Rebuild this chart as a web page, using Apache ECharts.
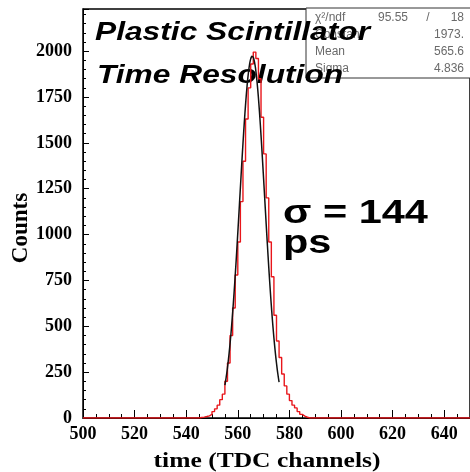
<!DOCTYPE html>
<html>
<head>
<meta charset="utf-8">
<script src="https://cdn.jsdelivr.net/npm/echarts@6/dist/echarts.min.js"></script>
<style>
  html, body { margin: 0; padding: 0; background: #fff; }
  #chart { width: 470px; height: 472px; }
</style>
</head>
<body>
<div id="chart"></div>
<script>
// TDC channel range of the histogram (1 channel per bin)
const xMin = 500;
const xMax = 650;
const xTickStep = 20;
const yMax = 2230;
const yTickStep = 250;

// Bin contents for channels 545 .. 586 (all other bins are empty)
const firstFilledChannel = 545;
const counts = [
  3, 5, 8, 12, 20, 35, 50, 70, 100, 130,                   // 545-554
  200, 300, 450, 600, 780, 960, 1180, 1400, 1630, 1800,    // 555-564
  1930, 1995, 1960, 1850, 1640, 1440, 1200, 960, 770, 560, // 565-574
  420, 330, 240, 175, 130, 95, 70, 55, 35, 20,             // 575-584
  10, 4                                                     // 585-586
];

// Gaussian fit results (stat box)
const fitStats = {
  chi2: '95.55', ndf: '18',
  constant: 1973, mean: 565.6, sigma: 4.836
};
const fitRange = [555, 576];

// Histogram outline: one point per bin lower edge, closed at xMax
const histPoints = [];
for (let ch = xMin; ch < xMax; ch++) {
  const i = ch - firstFilledChannel;
  histPoints.push([ch, (i >= 0 && i < counts.length) ? counts[i] : 0]);
}
histPoints.push([xMax, 0]);

// Fitted Gaussian over the fit range
const fitPoints = [];
for (let x = fitRange[0]; x <= fitRange[1] + 1e-9; x += 0.25) {
  const z = (x - fitStats.mean) / fitStats.sigma;
  fitPoints.push([x, fitStats.constant * Math.exp(-0.5 * z * z)]);
}

const serif = '"Liberation Serif", "Times New Roman", serif';
const sans = '"Liberation Sans", Arial, Helvetica, sans-serif';
const statColor = '#6a6a6a';
const statFont = '12px ' + sans;

function statText(x, y, text, align) {
  return {
    type: 'text', z: 0, x: x, y: y,
    style: { text: text, font: statFont, fill: statColor, textAlign: align || 'left', textVerticalAlign: 'middle' }
  };
}

const chart = echarts.init(document.getElementById('chart'), null, { renderer: 'canvas' });

chart.setOption({
  animation: false,
  backgroundColor: '#ffffff',
  grid: {
    left: 83, right: -6, top: 9, bottom: 54,
    show: true, borderColor: '#000', borderWidth: 1.5, backgroundColor: 'transparent'
  },
  xAxis: {
    type: 'value',
    min: xMin, max: xMax, interval: xTickStep,
    axisLine: { show: true, onZero: false, lineStyle: { color: '#000', width: 1 } },
    axisTick: { show: true, inside: true, length: 8, lineStyle: { color: '#000', width: 1 } },
    minorTick: { show: true, splitNumber: 4, length: 4, lineStyle: { color: '#000', width: 1 } },
    splitLine: { show: false },
    axisLabel: {
      showMaxLabel: false,
      margin: 7,
      formatter: v => String(v),
      fontFamily: serif, fontWeight: 'bold', fontSize: 18, color: '#000'
    }
  },
  yAxis: {
    type: 'value',
    min: 0, max: yMax, interval: yTickStep,
    axisLine: { show: true, lineStyle: { color: '#000', width: 1 } },
    axisTick: { show: true, inside: true, length: 6, lineStyle: { color: '#000', width: 1 } },
    minorTick: { show: true, splitNumber: 5, length: 3, lineStyle: { color: '#000', width: 1 } },
    splitLine: { show: false },
    axisLabel: {
      showMaxLabel: false,
      margin: 11,
      formatter: v => String(v),
      fontFamily: serif, fontWeight: 'bold', fontSize: 18, color: '#000'
    }
  },
  series: [
    {
      name: 'histogram',
      type: 'line',
      step: 'end',
      data: histPoints,
      showSymbol: false,
      z: 3,
      lineStyle: { color: '#e8161b', width: 1.4 }
    },
    {
      name: 'gaus fit',
      type: 'line',
      smooth: true,
      data: fitPoints,
      showSymbol: false,
      z: 4,
      lineStyle: { color: '#111', width: 1.5 }
    }
  ],
  graphic: [
    // statistics box
    {
      type: 'rect', z: 0,
      shape: { x: 306, y: 8, width: 180, height: 70 },
      style: { fill: '#fff', stroke: '#333', lineWidth: 1 }
    },
    statText(315, 18, 'χ²/ndf'),
    statText(408, 18, fitStats.chi2, 'right'),
    statText(428, 18, '/', 'center'),
    statText(464, 18, fitStats.ndf, 'right'),
    statText(315, 35, 'Constant'),
    statText(464, 35, fitStats.constant + '.', 'right'),
    statText(315, 52, 'Mean'),
    statText(464, 52, String(fitStats.mean), 'right'),
    statText(315, 69, 'Sigma'),
    statText(464, 69, String(fitStats.sigma), 'right'),
    // headline
    { type: 'text', z: 1, x: 95, y: 33, scaleX: 1.22,
      style: { text: 'Plastic Scintillator', font: 'italic bold 26px ' + sans, fill: '#000', textVerticalAlign: 'middle' } },
    { type: 'text', z: 1, x: 97, y: 76, scaleX: 1.22,
      style: { text: 'Time Resolution', font: 'italic bold 26px ' + sans, fill: '#000', textVerticalAlign: 'middle' } },
    // resolution annotation
    { type: 'text', z: 1, x: 283, y: 214, scaleX: 1.22,
      style: { text: 'σ = 144', font: 'bold 34px ' + sans, fill: '#000', textVerticalAlign: 'middle' } },
    { type: 'text', z: 1, x: 283, y: 244, scaleX: 1.22,
      style: { text: 'ps', font: 'bold 34px ' + sans, fill: '#000', textVerticalAlign: 'middle' } },
    // axis titles
    { type: 'text', z: 1, x: 267, y: 461, scaleX: 1.16,
      style: { text: 'time (TDC channels)', font: 'bold 22px ' + serif, fill: '#000', textAlign: 'center', textVerticalAlign: 'middle' } },
    { type: 'text', z: 1, x: 21, y: 228, rotation: Math.PI / 2,
      style: { text: 'Counts', font: 'bold 23px ' + serif, fill: '#000', textAlign: 'center', textVerticalAlign: 'middle' } }
  ]
});
</script>
</body>
</html>
